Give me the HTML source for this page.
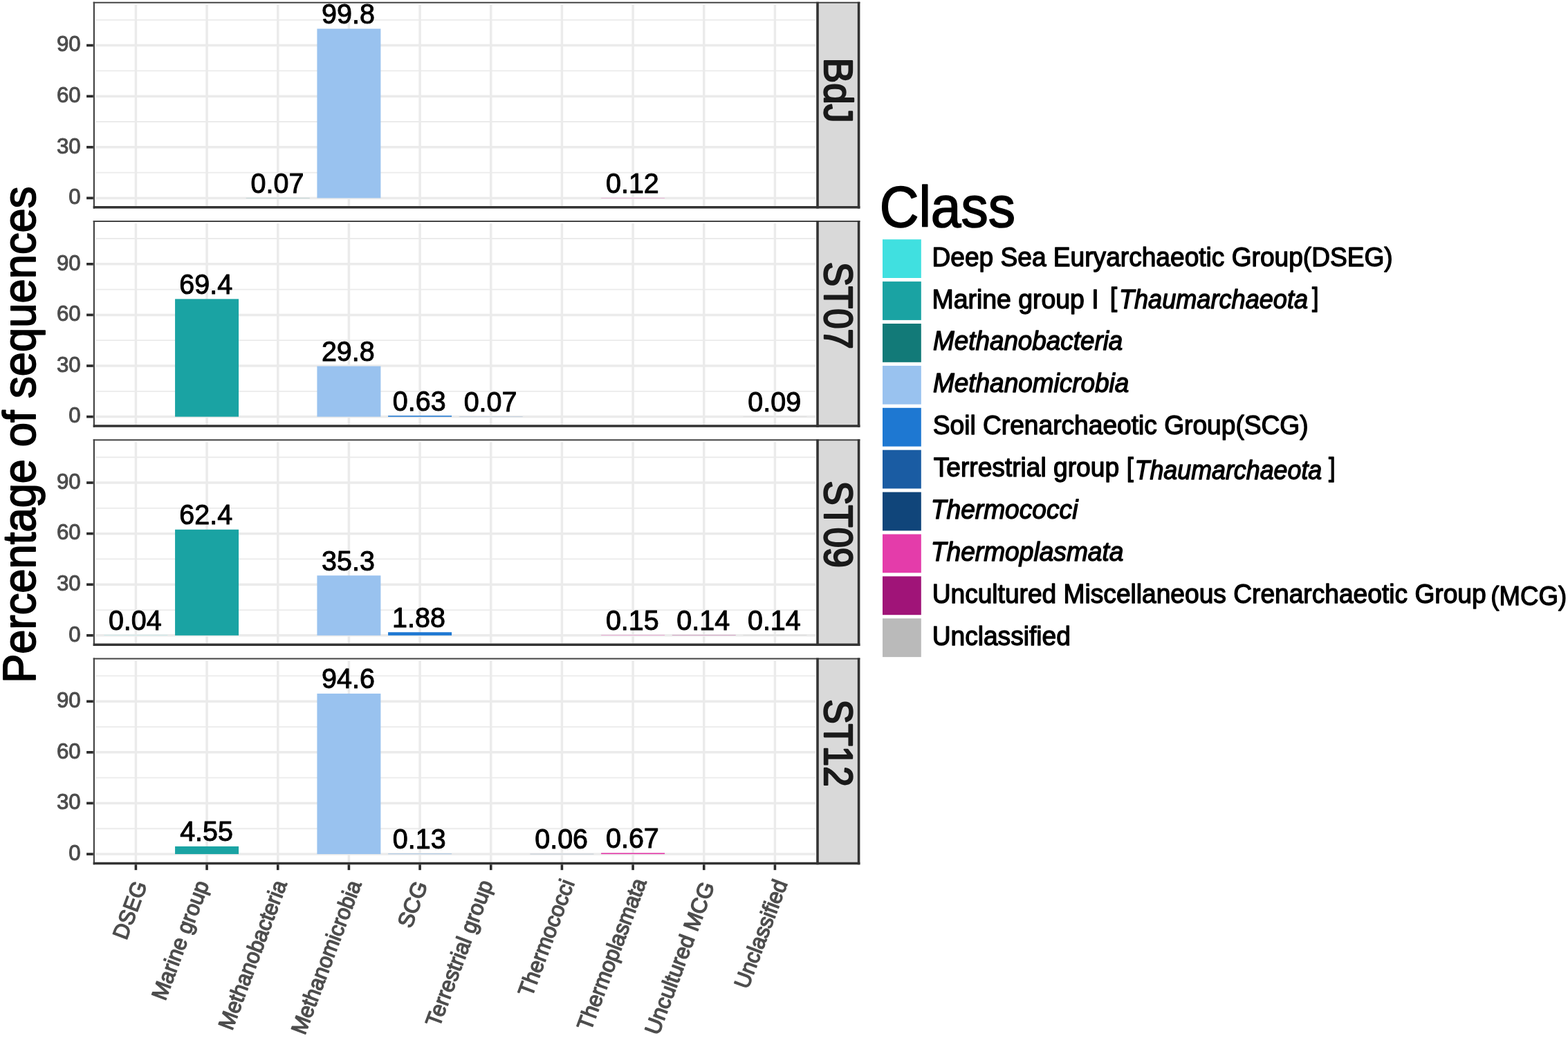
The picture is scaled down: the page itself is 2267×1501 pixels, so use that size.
<!DOCTYPE html>
<html lang="en"><head><meta charset="utf-8"><title>Percentage of sequences by class</title>
<style>html,body{margin:0;padding:0;background:#fff;overflow:hidden}svg{display:block}text{font-family:'Liberation Sans', sans-serif;stroke-linejoin:round}</style>
</head><body>
<svg width="2267" height="1501" viewBox="0 0 2267 1501" role="img" aria-label="Percentage of sequences per archaeal class in samples BdJ, ST07, ST09 and ST12">
<rect width="2267" height="1501" fill="#FFFFFF"/>
<g>
<rect x="1182" y="3.8" width="59.6" height="296" fill="#D9D9D9"/>
<line x1="138.7" y1="249.6" x2="1179.4" y2="249.6" stroke="#EBEBEB" stroke-width="1.8"/>
<line x1="138.7" y1="176" x2="1179.4" y2="176" stroke="#EBEBEB" stroke-width="1.8"/>
<line x1="138.7" y1="102.4" x2="1179.4" y2="102.4" stroke="#EBEBEB" stroke-width="1.8"/>
<line x1="138.7" y1="28.8" x2="1179.4" y2="28.8" stroke="#EBEBEB" stroke-width="1.8"/>
<line x1="138.7" y1="286.4" x2="1179.4" y2="286.4" stroke="#EBEBEB" stroke-width="3.5"/>
<line x1="138.7" y1="212.8" x2="1179.4" y2="212.8" stroke="#EBEBEB" stroke-width="3.5"/>
<line x1="138.7" y1="139.2" x2="1179.4" y2="139.2" stroke="#EBEBEB" stroke-width="3.5"/>
<line x1="138.7" y1="65.6" x2="1179.4" y2="65.6" stroke="#EBEBEB" stroke-width="3.5"/>
<line x1="196.4" y1="6.7" x2="196.4" y2="297.8" stroke="#EBEBEB" stroke-width="3.5"/>
<line x1="299.07" y1="6.7" x2="299.07" y2="297.8" stroke="#EBEBEB" stroke-width="3.5"/>
<line x1="401.74" y1="6.7" x2="401.74" y2="297.8" stroke="#EBEBEB" stroke-width="3.5"/>
<line x1="504.41" y1="6.7" x2="504.41" y2="297.8" stroke="#EBEBEB" stroke-width="3.5"/>
<line x1="607.08" y1="6.7" x2="607.08" y2="297.8" stroke="#EBEBEB" stroke-width="3.5"/>
<line x1="709.75" y1="6.7" x2="709.75" y2="297.8" stroke="#EBEBEB" stroke-width="3.5"/>
<line x1="812.42" y1="6.7" x2="812.42" y2="297.8" stroke="#EBEBEB" stroke-width="3.5"/>
<line x1="915.09" y1="6.7" x2="915.09" y2="297.8" stroke="#EBEBEB" stroke-width="3.5"/>
<line x1="1017.76" y1="6.7" x2="1017.76" y2="297.8" stroke="#EBEBEB" stroke-width="3.5"/>
<line x1="1120.43" y1="6.7" x2="1120.43" y2="297.8" stroke="#EBEBEB" stroke-width="3.5"/>
<rect x="355.74" y="286.23" width="92" height="0.18" fill="#127A78"/>
<rect x="458.41" y="41.56" width="92" height="244.84" fill="#99C2EF"/>
<rect x="869.09" y="286.11" width="92" height="0.29" fill="#E43CAA"/>
<text transform="translate(362.62 278.73) scale(1 1.047)" font-size="39.5" fill="#000" stroke="#000" stroke-width="1">0.07</text>
<text transform="translate(465 34.06) scale(1 1.047)" font-size="39.5" fill="#000" stroke="#000" stroke-width="1">99.8</text>
<text transform="translate(875.97 278.61) scale(1 1.047)" font-size="39.5" fill="#000" stroke="#000" stroke-width="1">0.12</text>
<line x1="134.7" y1="3.8" x2="1243.4" y2="3.8" stroke="#454545" stroke-width="2"/>
<line x1="135.9" y1="2.8" x2="135.9" y2="301.6" stroke="#454545" stroke-width="2.2"/>
<line x1="1182" y1="2.8" x2="1182" y2="301.6" stroke="#333333" stroke-width="3.6"/>
<line x1="1241.6" y1="2.8" x2="1241.6" y2="301.6" stroke="#333333" stroke-width="3.6"/>
<line x1="134.7" y1="299.8" x2="1243.4" y2="299.8" stroke="#333333" stroke-width="3.6"/>
<line x1="125.1" y1="286.4" x2="134.8" y2="286.4" stroke="#2B2B2B" stroke-width="3.7"/>
<text transform="translate(99.32 295.15) scale(1 1.02)" font-size="31.3" fill="#4D4D4D" stroke="#4D4D4D" stroke-width="1">0</text>
<line x1="125.1" y1="212.8" x2="134.8" y2="212.8" stroke="#2B2B2B" stroke-width="3.7"/>
<text transform="translate(81.95 221.55) scale(1 1.02)" font-size="31.3" fill="#4D4D4D" stroke="#4D4D4D" stroke-width="1">30</text>
<line x1="125.1" y1="139.2" x2="134.8" y2="139.2" stroke="#2B2B2B" stroke-width="3.7"/>
<text transform="translate(81.95 147.95) scale(1 1.02)" font-size="31.3" fill="#4D4D4D" stroke="#4D4D4D" stroke-width="1">60</text>
<line x1="125.1" y1="65.6" x2="134.8" y2="65.6" stroke="#2B2B2B" stroke-width="3.7"/>
<text transform="translate(81.95 74.35) scale(1 1.02)" font-size="31.3" fill="#4D4D4D" stroke="#4D4D4D" stroke-width="1">90</text>
<text transform="translate(1192.1 83.79) rotate(90) scale(0.9842 1.045)" font-size="55.4" fill="#1A1A1A" stroke="#1A1A1A" stroke-width="2.3">BdJ</text>
</g>
<g>
<rect x="1182" y="320.02" width="59.6" height="296" fill="#D9D9D9"/>
<line x1="138.7" y1="565.82" x2="1179.4" y2="565.82" stroke="#EBEBEB" stroke-width="1.8"/>
<line x1="138.7" y1="492.22" x2="1179.4" y2="492.22" stroke="#EBEBEB" stroke-width="1.8"/>
<line x1="138.7" y1="418.62" x2="1179.4" y2="418.62" stroke="#EBEBEB" stroke-width="1.8"/>
<line x1="138.7" y1="345.02" x2="1179.4" y2="345.02" stroke="#EBEBEB" stroke-width="1.8"/>
<line x1="138.7" y1="602.62" x2="1179.4" y2="602.62" stroke="#EBEBEB" stroke-width="3.5"/>
<line x1="138.7" y1="529.02" x2="1179.4" y2="529.02" stroke="#EBEBEB" stroke-width="3.5"/>
<line x1="138.7" y1="455.42" x2="1179.4" y2="455.42" stroke="#EBEBEB" stroke-width="3.5"/>
<line x1="138.7" y1="381.82" x2="1179.4" y2="381.82" stroke="#EBEBEB" stroke-width="3.5"/>
<line x1="196.4" y1="322.92" x2="196.4" y2="614.02" stroke="#EBEBEB" stroke-width="3.5"/>
<line x1="299.07" y1="322.92" x2="299.07" y2="614.02" stroke="#EBEBEB" stroke-width="3.5"/>
<line x1="401.74" y1="322.92" x2="401.74" y2="614.02" stroke="#EBEBEB" stroke-width="3.5"/>
<line x1="504.41" y1="322.92" x2="504.41" y2="614.02" stroke="#EBEBEB" stroke-width="3.5"/>
<line x1="607.08" y1="322.92" x2="607.08" y2="614.02" stroke="#EBEBEB" stroke-width="3.5"/>
<line x1="709.75" y1="322.92" x2="709.75" y2="614.02" stroke="#EBEBEB" stroke-width="3.5"/>
<line x1="812.42" y1="322.92" x2="812.42" y2="614.02" stroke="#EBEBEB" stroke-width="3.5"/>
<line x1="915.09" y1="322.92" x2="915.09" y2="614.02" stroke="#EBEBEB" stroke-width="3.5"/>
<line x1="1017.76" y1="322.92" x2="1017.76" y2="614.02" stroke="#EBEBEB" stroke-width="3.5"/>
<line x1="1120.43" y1="322.92" x2="1120.43" y2="614.02" stroke="#EBEBEB" stroke-width="3.5"/>
<rect x="253.07" y="432.36" width="92" height="170.26" fill="#1AA3A3"/>
<rect x="458.41" y="529.51" width="92" height="73.11" fill="#99C2EF"/>
<rect x="561.08" y="601.07" width="92" height="1.55" fill="#1E78D2"/>
<rect x="663.75" y="602.45" width="92" height="0.18" fill="#1A5CA3"/>
<rect x="1074.43" y="602.4" width="92" height="0.22" fill="#BABABA"/>
<text transform="translate(259.26 424.86) scale(1 1.047)" font-size="39.5" fill="#000" stroke="#000" stroke-width="1">69.4</text>
<text transform="translate(464.9 522.01) scale(1 1.047)" font-size="39.5" fill="#000" stroke="#000" stroke-width="1">29.8</text>
<text transform="translate(567.87 593.57) scale(1 1.047)" font-size="39.5" fill="#000" stroke="#000" stroke-width="1">0.63</text>
<text transform="translate(670.63 594.95) scale(1 1.047)" font-size="39.5" fill="#000" stroke="#000" stroke-width="1">0.07</text>
<text transform="translate(1081.31 594.9) scale(1 1.047)" font-size="39.5" fill="#000" stroke="#000" stroke-width="1">0.09</text>
<line x1="134.7" y1="320.02" x2="1243.4" y2="320.02" stroke="#454545" stroke-width="2"/>
<line x1="135.9" y1="319.02" x2="135.9" y2="617.82" stroke="#454545" stroke-width="2.2"/>
<line x1="1182" y1="319.02" x2="1182" y2="617.82" stroke="#333333" stroke-width="3.6"/>
<line x1="1241.6" y1="319.02" x2="1241.6" y2="617.82" stroke="#333333" stroke-width="3.6"/>
<line x1="134.7" y1="616.02" x2="1243.4" y2="616.02" stroke="#333333" stroke-width="3.6"/>
<line x1="125.1" y1="602.62" x2="134.8" y2="602.62" stroke="#2B2B2B" stroke-width="3.7"/>
<text transform="translate(99.32 611.37) scale(1 1.02)" font-size="31.3" fill="#4D4D4D" stroke="#4D4D4D" stroke-width="1">0</text>
<line x1="125.1" y1="529.02" x2="134.8" y2="529.02" stroke="#2B2B2B" stroke-width="3.7"/>
<text transform="translate(81.95 537.77) scale(1 1.02)" font-size="31.3" fill="#4D4D4D" stroke="#4D4D4D" stroke-width="1">30</text>
<line x1="125.1" y1="455.42" x2="134.8" y2="455.42" stroke="#2B2B2B" stroke-width="3.7"/>
<text transform="translate(81.95 464.17) scale(1 1.02)" font-size="31.3" fill="#4D4D4D" stroke="#4D4D4D" stroke-width="1">60</text>
<line x1="125.1" y1="381.82" x2="134.8" y2="381.82" stroke="#2B2B2B" stroke-width="3.7"/>
<text transform="translate(81.95 390.57) scale(1 1.02)" font-size="31.3" fill="#4D4D4D" stroke="#4D4D4D" stroke-width="1">90</text>
<text transform="translate(1192.1 378.98) rotate(90) scale(0.9493 1.045)" font-size="55.4" fill="#1A1A1A" stroke="#1A1A1A" stroke-width="2.3">ST07</text>
</g>
<g>
<rect x="1182" y="636.24" width="59.6" height="296" fill="#D9D9D9"/>
<line x1="138.7" y1="882.04" x2="1179.4" y2="882.04" stroke="#EBEBEB" stroke-width="1.8"/>
<line x1="138.7" y1="808.44" x2="1179.4" y2="808.44" stroke="#EBEBEB" stroke-width="1.8"/>
<line x1="138.7" y1="734.84" x2="1179.4" y2="734.84" stroke="#EBEBEB" stroke-width="1.8"/>
<line x1="138.7" y1="661.24" x2="1179.4" y2="661.24" stroke="#EBEBEB" stroke-width="1.8"/>
<line x1="138.7" y1="918.84" x2="1179.4" y2="918.84" stroke="#EBEBEB" stroke-width="3.5"/>
<line x1="138.7" y1="845.24" x2="1179.4" y2="845.24" stroke="#EBEBEB" stroke-width="3.5"/>
<line x1="138.7" y1="771.64" x2="1179.4" y2="771.64" stroke="#EBEBEB" stroke-width="3.5"/>
<line x1="138.7" y1="698.04" x2="1179.4" y2="698.04" stroke="#EBEBEB" stroke-width="3.5"/>
<line x1="196.4" y1="639.14" x2="196.4" y2="930.24" stroke="#EBEBEB" stroke-width="3.5"/>
<line x1="299.07" y1="639.14" x2="299.07" y2="930.24" stroke="#EBEBEB" stroke-width="3.5"/>
<line x1="401.74" y1="639.14" x2="401.74" y2="930.24" stroke="#EBEBEB" stroke-width="3.5"/>
<line x1="504.41" y1="639.14" x2="504.41" y2="930.24" stroke="#EBEBEB" stroke-width="3.5"/>
<line x1="607.08" y1="639.14" x2="607.08" y2="930.24" stroke="#EBEBEB" stroke-width="3.5"/>
<line x1="709.75" y1="639.14" x2="709.75" y2="930.24" stroke="#EBEBEB" stroke-width="3.5"/>
<line x1="812.42" y1="639.14" x2="812.42" y2="930.24" stroke="#EBEBEB" stroke-width="3.5"/>
<line x1="915.09" y1="639.14" x2="915.09" y2="930.24" stroke="#EBEBEB" stroke-width="3.5"/>
<line x1="1017.76" y1="639.14" x2="1017.76" y2="930.24" stroke="#EBEBEB" stroke-width="3.5"/>
<line x1="1120.43" y1="639.14" x2="1120.43" y2="930.24" stroke="#EBEBEB" stroke-width="3.5"/>
<rect x="150.4" y="918.74" width="92" height="0.18" fill="#40E0E0"/>
<rect x="253.07" y="765.75" width="92" height="153.09" fill="#1AA3A3"/>
<rect x="458.41" y="832.24" width="92" height="86.6" fill="#99C2EF"/>
<rect x="561.08" y="914.23" width="92" height="4.61" fill="#1E78D2"/>
<rect x="869.09" y="918.47" width="92" height="0.37" fill="#E43CAA"/>
<rect x="971.76" y="918.5" width="92" height="0.34" fill="#A01478"/>
<rect x="1074.43" y="918.5" width="92" height="0.34" fill="#BABABA"/>
<text transform="translate(156.89 911.24) scale(1 1.047)" font-size="39.5" fill="#000" stroke="#000" stroke-width="1">0.04</text>
<text transform="translate(259.26 758.25) scale(1 1.047)" font-size="39.5" fill="#000" stroke="#000" stroke-width="1">62.4</text>
<text transform="translate(465.1 824.74) scale(1 1.047)" font-size="39.5" fill="#000" stroke="#000" stroke-width="1">35.3</text>
<text transform="translate(567.08 906.73) scale(1 1.047)" font-size="39.5" fill="#000" stroke="#000" stroke-width="1">1.88</text>
<text transform="translate(875.88 910.97) scale(1 1.047)" font-size="39.5" fill="#000" stroke="#000" stroke-width="1">0.15</text>
<text transform="translate(978.25 911) scale(1 1.047)" font-size="39.5" fill="#000" stroke="#000" stroke-width="1">0.14</text>
<text transform="translate(1080.92 911) scale(1 1.047)" font-size="39.5" fill="#000" stroke="#000" stroke-width="1">0.14</text>
<line x1="134.7" y1="636.24" x2="1243.4" y2="636.24" stroke="#454545" stroke-width="2"/>
<line x1="135.9" y1="635.24" x2="135.9" y2="934.04" stroke="#454545" stroke-width="2.2"/>
<line x1="1182" y1="635.24" x2="1182" y2="934.04" stroke="#333333" stroke-width="3.6"/>
<line x1="1241.6" y1="635.24" x2="1241.6" y2="934.04" stroke="#333333" stroke-width="3.6"/>
<line x1="134.7" y1="932.24" x2="1243.4" y2="932.24" stroke="#333333" stroke-width="3.6"/>
<line x1="125.1" y1="918.84" x2="134.8" y2="918.84" stroke="#2B2B2B" stroke-width="3.7"/>
<text transform="translate(99.32 927.59) scale(1 1.02)" font-size="31.3" fill="#4D4D4D" stroke="#4D4D4D" stroke-width="1">0</text>
<line x1="125.1" y1="845.24" x2="134.8" y2="845.24" stroke="#2B2B2B" stroke-width="3.7"/>
<text transform="translate(81.95 853.99) scale(1 1.02)" font-size="31.3" fill="#4D4D4D" stroke="#4D4D4D" stroke-width="1">30</text>
<line x1="125.1" y1="771.64" x2="134.8" y2="771.64" stroke="#2B2B2B" stroke-width="3.7"/>
<text transform="translate(81.95 780.39) scale(1 1.02)" font-size="31.3" fill="#4D4D4D" stroke="#4D4D4D" stroke-width="1">60</text>
<line x1="125.1" y1="698.04" x2="134.8" y2="698.04" stroke="#2B2B2B" stroke-width="3.7"/>
<text transform="translate(81.95 706.79) scale(1 1.02)" font-size="31.3" fill="#4D4D4D" stroke="#4D4D4D" stroke-width="1">90</text>
<text transform="translate(1192.1 695.59) rotate(90) scale(0.9473 1.045)" font-size="55.4" fill="#1A1A1A" stroke="#1A1A1A" stroke-width="2.3">ST09</text>
</g>
<g>
<rect x="1182" y="952.46" width="59.6" height="296" fill="#D9D9D9"/>
<line x1="138.7" y1="1198.26" x2="1179.4" y2="1198.26" stroke="#EBEBEB" stroke-width="1.8"/>
<line x1="138.7" y1="1124.66" x2="1179.4" y2="1124.66" stroke="#EBEBEB" stroke-width="1.8"/>
<line x1="138.7" y1="1051.06" x2="1179.4" y2="1051.06" stroke="#EBEBEB" stroke-width="1.8"/>
<line x1="138.7" y1="977.46" x2="1179.4" y2="977.46" stroke="#EBEBEB" stroke-width="1.8"/>
<line x1="138.7" y1="1235.06" x2="1179.4" y2="1235.06" stroke="#EBEBEB" stroke-width="3.5"/>
<line x1="138.7" y1="1161.46" x2="1179.4" y2="1161.46" stroke="#EBEBEB" stroke-width="3.5"/>
<line x1="138.7" y1="1087.86" x2="1179.4" y2="1087.86" stroke="#EBEBEB" stroke-width="3.5"/>
<line x1="138.7" y1="1014.26" x2="1179.4" y2="1014.26" stroke="#EBEBEB" stroke-width="3.5"/>
<line x1="196.4" y1="955.36" x2="196.4" y2="1246.46" stroke="#EBEBEB" stroke-width="3.5"/>
<line x1="299.07" y1="955.36" x2="299.07" y2="1246.46" stroke="#EBEBEB" stroke-width="3.5"/>
<line x1="401.74" y1="955.36" x2="401.74" y2="1246.46" stroke="#EBEBEB" stroke-width="3.5"/>
<line x1="504.41" y1="955.36" x2="504.41" y2="1246.46" stroke="#EBEBEB" stroke-width="3.5"/>
<line x1="607.08" y1="955.36" x2="607.08" y2="1246.46" stroke="#EBEBEB" stroke-width="3.5"/>
<line x1="709.75" y1="955.36" x2="709.75" y2="1246.46" stroke="#EBEBEB" stroke-width="3.5"/>
<line x1="812.42" y1="955.36" x2="812.42" y2="1246.46" stroke="#EBEBEB" stroke-width="3.5"/>
<line x1="915.09" y1="955.36" x2="915.09" y2="1246.46" stroke="#EBEBEB" stroke-width="3.5"/>
<line x1="1017.76" y1="955.36" x2="1017.76" y2="1246.46" stroke="#EBEBEB" stroke-width="3.5"/>
<line x1="1120.43" y1="955.36" x2="1120.43" y2="1246.46" stroke="#EBEBEB" stroke-width="3.5"/>
<rect x="253.07" y="1223.9" width="92" height="11.16" fill="#1AA3A3"/>
<rect x="458.41" y="1002.98" width="92" height="232.08" fill="#99C2EF"/>
<rect x="561.08" y="1234.74" width="92" height="0.32" fill="#1E78D2"/>
<rect x="766.42" y="1234.91" width="92" height="0.18" fill="#10457A"/>
<rect x="869.09" y="1233.42" width="92" height="1.64" fill="#E43CAA"/>
<text transform="translate(260.15 1216.4) scale(1 1.047)" font-size="39.5" fill="#000" stroke="#000" stroke-width="1">4.55</text>
<text transform="translate(465 995.48) scale(1 1.047)" font-size="39.5" fill="#000" stroke="#000" stroke-width="1">94.6</text>
<text transform="translate(567.87 1227.24) scale(1 1.047)" font-size="39.5" fill="#000" stroke="#000" stroke-width="1">0.13</text>
<text transform="translate(773.2 1227.41) scale(1 1.047)" font-size="39.5" fill="#000" stroke="#000" stroke-width="1">0.06</text>
<text transform="translate(875.97 1225.92) scale(1 1.047)" font-size="39.5" fill="#000" stroke="#000" stroke-width="1">0.67</text>
<line x1="134.7" y1="952.46" x2="1243.4" y2="952.46" stroke="#454545" stroke-width="2"/>
<line x1="135.9" y1="951.46" x2="135.9" y2="1250.26" stroke="#454545" stroke-width="2.2"/>
<line x1="1182" y1="951.46" x2="1182" y2="1250.26" stroke="#333333" stroke-width="3.6"/>
<line x1="1241.6" y1="951.46" x2="1241.6" y2="1250.26" stroke="#333333" stroke-width="3.6"/>
<line x1="134.7" y1="1248.46" x2="1243.4" y2="1248.46" stroke="#333333" stroke-width="3.6"/>
<line x1="125.1" y1="1235.06" x2="134.8" y2="1235.06" stroke="#2B2B2B" stroke-width="3.7"/>
<text transform="translate(99.32 1243.81) scale(1 1.02)" font-size="31.3" fill="#4D4D4D" stroke="#4D4D4D" stroke-width="1">0</text>
<line x1="125.1" y1="1161.46" x2="134.8" y2="1161.46" stroke="#2B2B2B" stroke-width="3.7"/>
<text transform="translate(81.95 1170.21) scale(1 1.02)" font-size="31.3" fill="#4D4D4D" stroke="#4D4D4D" stroke-width="1">30</text>
<line x1="125.1" y1="1087.86" x2="134.8" y2="1087.86" stroke="#2B2B2B" stroke-width="3.7"/>
<text transform="translate(81.95 1096.61) scale(1 1.02)" font-size="31.3" fill="#4D4D4D" stroke="#4D4D4D" stroke-width="1">60</text>
<line x1="125.1" y1="1014.26" x2="134.8" y2="1014.26" stroke="#2B2B2B" stroke-width="3.7"/>
<text transform="translate(81.95 1023.01) scale(1 1.02)" font-size="31.3" fill="#4D4D4D" stroke="#4D4D4D" stroke-width="1">90</text>
<text transform="translate(1192.1 1011.48) rotate(90) scale(0.9517 1.045)" font-size="55.4" fill="#1A1A1A" stroke="#1A1A1A" stroke-width="2.3">ST12</text>
</g>
<g>
<line x1="196.4" y1="1250.26" x2="196.4" y2="1258.16" stroke="#2B2B2B" stroke-width="3.6"/>
<text transform="translate(182.8 1360.38) rotate(-69.5) scale(1 1.04)" font-size="30.6" fill="#4D4D4D" stroke="#4D4D4D" stroke-width="1.3">DSEG</text>
<line x1="299.07" y1="1250.26" x2="299.07" y2="1258.16" stroke="#2B2B2B" stroke-width="3.6"/>
<text transform="translate(238.94 1448.18) rotate(-69.5) scale(1.005 1.04)" font-size="30.6" fill="#4D4D4D" stroke="#4D4D4D" stroke-width="1.3">Marine group</text>
<line x1="401.74" y1="1250.26" x2="401.74" y2="1258.16" stroke="#2B2B2B" stroke-width="3.6"/>
<text transform="translate(335.48 1491.3) rotate(-69.5) scale(1 1.04)" font-size="30.6" fill="#4D4D4D" stroke="#4D4D4D" stroke-width="1.3">Methanobacteria</text>
<line x1="504.41" y1="1250.26" x2="504.41" y2="1258.16" stroke="#2B2B2B" stroke-width="3.6"/>
<text transform="translate(440.69 1497.81) rotate(-69.5) scale(1 1.04)" font-size="30.6" fill="#4D4D4D" stroke="#4D4D4D" stroke-width="1.3">Methanomicrobia</text>
<line x1="607.08" y1="1250.26" x2="607.08" y2="1258.16" stroke="#2B2B2B" stroke-width="3.6"/>
<text transform="translate(594.4 1343.82) rotate(-69.5) scale(1.04 1.04)" font-size="30.6" fill="#4D4D4D" stroke="#4D4D4D" stroke-width="1.3">SCG</text>
<line x1="709.75" y1="1250.26" x2="709.75" y2="1258.16" stroke="#2B2B2B" stroke-width="3.6"/>
<text transform="translate(634.96 1486.77) rotate(-69.5) scale(1.01 1.04)" font-size="30.6" fill="#4D4D4D" stroke="#4D4D4D" stroke-width="1.3">Terrestrial group</text>
<line x1="812.42" y1="1250.26" x2="812.42" y2="1258.16" stroke="#2B2B2B" stroke-width="3.6"/>
<text transform="translate(768.83 1442.93) rotate(-69.5) scale(1.015 1.04)" font-size="30.6" fill="#4D4D4D" stroke="#4D4D4D" stroke-width="1.3">Thermococci</text>
<line x1="915.09" y1="1250.26" x2="915.09" y2="1258.16" stroke="#2B2B2B" stroke-width="3.6"/>
<text transform="translate(853.99 1491.9) rotate(-69.5) scale(1.008 1.04)" font-size="30.6" fill="#4D4D4D" stroke="#4D4D4D" stroke-width="1.3">Thermoplasmata</text>
<line x1="1017.76" y1="1250.26" x2="1017.76" y2="1258.16" stroke="#2B2B2B" stroke-width="3.6"/>
<text transform="translate(951.96 1498.3) rotate(-69.5) scale(1.022 1.04)" font-size="30.6" fill="#4D4D4D" stroke="#4D4D4D" stroke-width="1.3">Uncultured MCG</text>
<line x1="1120.43" y1="1250.26" x2="1120.43" y2="1258.16" stroke="#2B2B2B" stroke-width="3.6"/>
<text transform="translate(1081.28 1431.54) rotate(-69.5) scale(1 1.04)" font-size="30.6" fill="#4D4D4D" stroke="#4D4D4D" stroke-width="1.3">Unclassified</text>
</g>
<text transform="translate(51.4 987.87) rotate(-90) scale(0.9991 1.05)" font-size="63.4" fill="#000" stroke="#000" stroke-width="1.8">Percentage of sequences</text>
<g>
<text transform="translate(1271.67 328) scale(0.9943 1.05)" font-size="79" fill="#000" stroke="#000" stroke-width="1.6">Class</text>
<rect x="1276" y="346.2" width="55.8" height="55.8" fill="#40E0E0"/>
<text transform="translate(1347.48 384.7) scale(0.9994 1.05)" font-size="37.15" fill="#000" stroke="#000" stroke-width="1.3">Deep Sea Euryarchaeotic Group(DSEG)</text>
<rect x="1276" y="407.1" width="55.8" height="55.8" fill="#1AA3A3"/>
<text transform="translate(1347.46 445.6) scale(1.0073 1.05)" font-size="37.15" fill="#000" stroke="#000" stroke-width="1.3">Marine group I</text>
<text transform="translate(1604.73 443.4) scale(1.0094 1.05)" font-size="37.15" fill="#000" stroke="#000" stroke-width="1.3">[</text>
<text transform="translate(1617.9 446.2) scale(0.9728 1.05)" font-size="37.15" fill="#000" stroke="#000" stroke-width="1.3" font-style="italic">Thaumarchaeota</text>
<text transform="translate(1897.08 443.4) scale(0.9191 1.05)" font-size="37.15" fill="#000" stroke="#000" stroke-width="1.3">]</text>
<rect x="1276" y="468" width="55.8" height="55.8" fill="#127A78"/>
<text transform="translate(1349.05 506.1) scale(0.9914 1.05)" font-size="37.15" fill="#000" stroke="#000" stroke-width="1.3" font-style="italic">Methanobacteria</text>
<rect x="1276" y="528.9" width="55.8" height="55.8" fill="#99C2EF"/>
<text transform="translate(1349.04 567) scale(0.9942 1.05)" font-size="37.15" fill="#000" stroke="#000" stroke-width="1.3" font-style="italic">Methanomicrobia</text>
<rect x="1276" y="589.8" width="55.8" height="55.8" fill="#1E78D2"/>
<text transform="translate(1348.78 628.3) scale(1 1.05)" font-size="37.15" fill="#000" stroke="#000" stroke-width="1.3">Soil Crenarchaeotic Group(SCG)</text>
<rect x="1276" y="650.7" width="55.8" height="55.8" fill="#1A5CA3"/>
<text transform="translate(1349.71 689.2) scale(1 1.05)" font-size="37.15" fill="#000" stroke="#000" stroke-width="1.3">Terrestrial group</text>
<text transform="translate(1628.63 688.9) scale(0.969 1.05)" font-size="37.15" fill="#000" stroke="#000" stroke-width="1.3">[</text>
<text transform="translate(1640.53 692.7) scale(0.9641 1.05)" font-size="37.15" fill="#000" stroke="#000" stroke-width="1.3" font-style="italic">Thaumarchaeota</text>
<text transform="translate(1920.98 688.9) scale(0.9323 1.05)" font-size="37.15" fill="#000" stroke="#000" stroke-width="1.3">]</text>
<rect x="1276" y="711.6" width="55.8" height="55.8" fill="#10457A"/>
<text transform="translate(1345.81 750.1) scale(1 1.05)" font-size="37.15" fill="#000" stroke="#000" stroke-width="1.3" font-style="italic">Thermococci</text>
<rect x="1276" y="772.5" width="55.8" height="55.8" fill="#E43CAA"/>
<text transform="translate(1345.81 811) scale(1 1.05)" font-size="37.15" fill="#000" stroke="#000" stroke-width="1.3" font-style="italic">Thermoplasmata</text>
<rect x="1276" y="833.4" width="55.8" height="55.8" fill="#A01478"/>
<text transform="translate(1347.66 871.9) scale(1 1.05)" font-size="37.15" fill="#000" stroke="#000" stroke-width="1.3">Uncultured Miscellaneous Crenarchaeotic Group</text>
<text transform="translate(2155.35 874.55) scale(0.9851 1.05)" font-size="37.15" fill="#000" stroke="#000" stroke-width="1.3">(MCG)</text>
<rect x="1276" y="894.3" width="55.8" height="55.8" fill="#BABABA"/>
<text transform="translate(1347.66 932.8) scale(1 1.05)" font-size="37.15" fill="#000" stroke="#000" stroke-width="1.3">Unclassified</text>
</g>
</svg></body></html>
